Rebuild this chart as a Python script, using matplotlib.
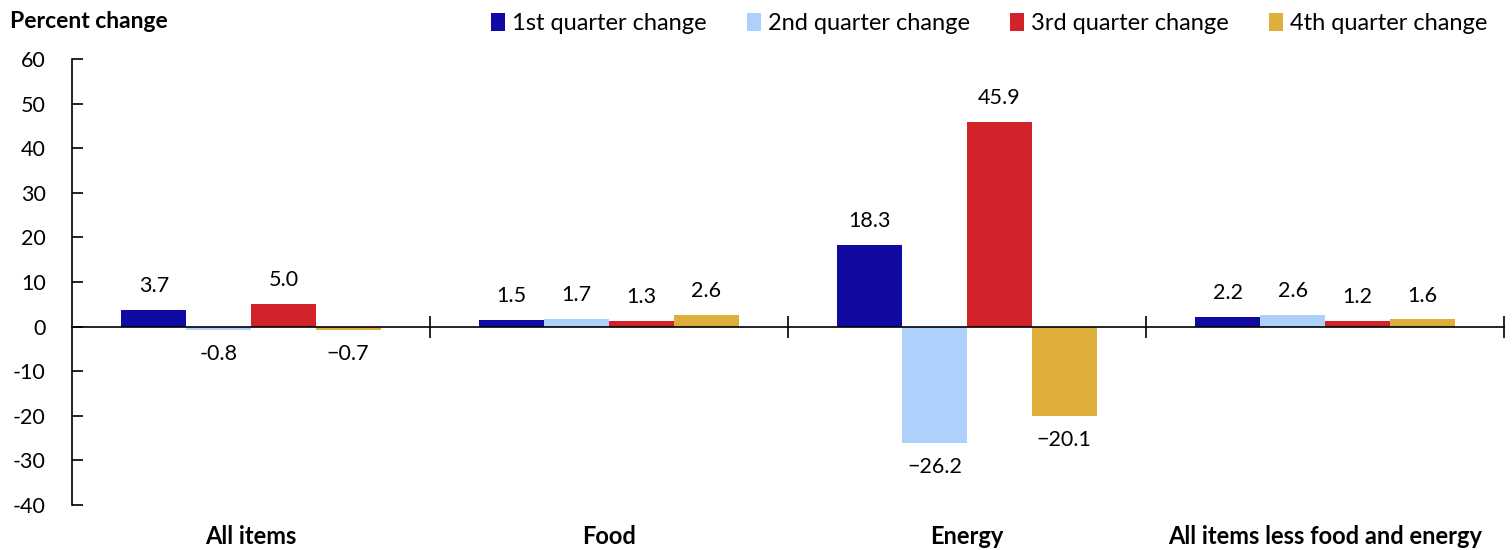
import numpy as np
import matplotlib.pyplot as plt
import matplotlib.transforms as mtransforms

plt.rcParams['font.family'] = ['Lato', 'DejaVu Sans']
plt.rcParams['axes.unicode_minus'] = False

# data
categories = ['All items', 'Food', 'Energy', 'All items less food and energy']
series = ['1st quarter change', '2nd quarter change', '3rd quarter change', '4th quarter change']
q1 = [3.7, 1.5, 18.3, 2.2]
q2 = [-0.8, 1.7, -26.2, 2.6]
q3 = [5.0, 1.3, 45.9, 1.2]
q4 = [-0.7, 2.6, -20.1, 1.6]
labels = [
    ['3.7', '1.5', '18.3', '2.2'],
    ['-0.8', '1.7', '\u221226.2', '2.6'],
    ['5.0', '1.3', '45.9', '1.2'],
    ['\u22120.7', '2.6', '\u221220.1', '1.6'],
]
colors = ['#100AA3', '#AED1FB', '#D2232A', '#DDAF3A']

fig = plt.figure(figsize=(15.12, 5.5), dpi=100)
ax = fig.add_axes([0.0476, 0.0818, 0.9471, 0.8109])

x = np.arange(len(categories))
w = 0.181
for i, vals in enumerate([q1, q2, q3, q4]):
    bars = ax.bar(x + (i - 1.5) * w, vals, w, color=colors[i], label=series[i], zorder=2)
    for b, v, lab in zip(bars, vals, labels[i]):
        cx = b.get_x() + b.get_width() / 2
        if v >= 0:
            ax.annotate(lab, (cx, v), xytext=(0, 10), textcoords='offset points',
                        ha='center', va='bottom', fontsize=15.5)
        else:
            ax.annotate(lab, (cx, v), xytext=(0, -10), textcoords='offset points',
                        ha='center', va='top', fontsize=15.5)

ax.set_xlim(-0.5, 3.5)
ax.set_ylim(-40, 60)
ax.set_yticks(np.arange(-40, 61, 10))
ax.tick_params(axis='y', direction='in', length=8, width=1.2, labelsize=15.5, pad=19)

ax.spines['top'].set_visible(False)
ax.spines['right'].set_visible(False)
ax.spines['bottom'].set_position(('data', 0))
ax.spines['bottom'].set_zorder(3)
ax.spines['left'].set_linewidth(1.2)
ax.spines['bottom'].set_linewidth(1.2)
ax.set_xticks([0.5, 1.5, 2.5, 3.5])
ax.set_xticklabels([])
ax.tick_params(axis='x', direction='inout', length=16, width=1.2)

trans = mtransforms.blended_transform_factory(ax.transData, fig.transFigure)
for xi, cat in zip(x, categories):
    ax.text(xi, 1 - 548 / 550, cat, transform=trans, ha='center', va='bottom',
            fontsize=17, fontweight='bold', clip_on=False)

fig.text(10 / 1512, 1 - 22 / 550, 'Percent change', ha='left', va='center',
         fontsize=16.5, fontweight='bold')

fig.legend(loc='upper right', bbox_to_anchor=(0.998, 1.015), ncol=4, frameon=False,
           fontsize=17, handlelength=0.6, handleheight=0.8, handletextpad=0.3,
           columnspacing=1.7)

fig.savefig('out.png', dpi=100)
